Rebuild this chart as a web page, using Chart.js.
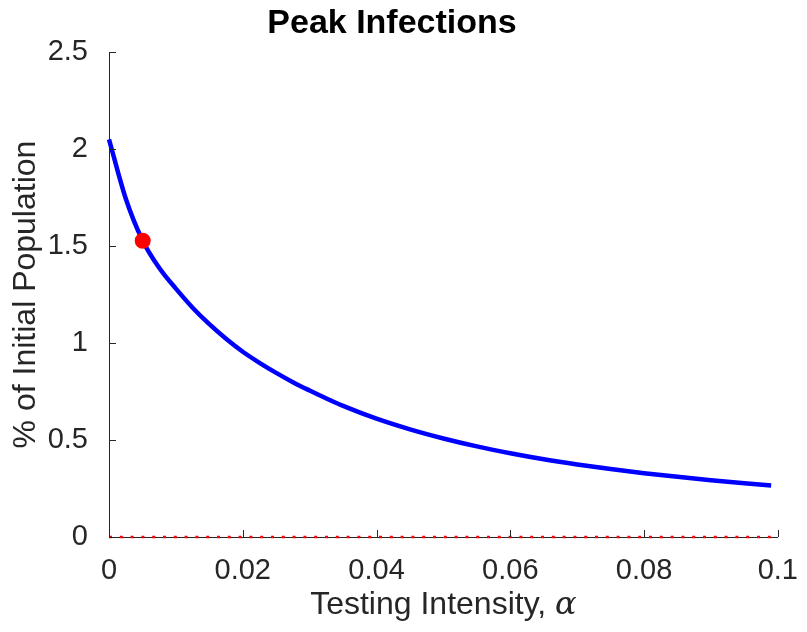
<!DOCTYPE html>
<html>
<head>
<meta charset="utf-8">
<script src="https://cdn.jsdelivr.net/npm/chart.js@4.4.1/dist/chart.umd.min.js"></script>
<style>
  html, body { margin: 0; padding: 0; background: #fff; }
  #wrap { width: 807px; height: 632px; }
</style>
</head>
<body>
<div id="wrap"><canvas id="peakChart"></canvas></div>
<script>
// testing intensity (alpha) and peak infections
const alphaVals = [0, 0.0025, 0.005, 0.0075, 0.01, 0.0125, 0.015, 0.0175, 0.02, 0.0225,
                   0.025, 0.0275, 0.03, 0.0325, 0.035, 0.04, 0.045, 0.05, 0.055, 0.06,
                   0.065, 0.07, 0.075, 0.08, 0.085, 0.09, 0.095, 0.099];
const peakVals = [2.05, 1.745, 1.53, 1.388, 1.28, 1.182, 1.097, 1.022, 0.955, 0.898,
                  0.846, 0.798, 0.755, 0.714, 0.676, 0.61, 0.555, 0.508, 0.467, 0.432,
                  0.401, 0.374, 0.35, 0.329, 0.31, 0.293, 0.277, 0.265];

// highlighted point
const markerAlpha = [0.00504];
const markerPeak = [1.527];

// zero reference line
const zeroAlpha = [0, 0.099];
const zeroPeak = [0, 0];

const xTicks = [0, 0.02, 0.04, 0.06, 0.08, 0.1];
const yTicks = [0, 0.5, 1, 1.5, 2, 2.5];

const FONT = '"Liberation Sans", Helvetica, Arial, sans-serif';
const AXIS_COLOR = '#262626';

const toPoints = (xs, ys) => xs.map((x, i) => ({x: x, y: ys[i]}));

//inward ticks, matlab style
const innerTicks = {
    id: 'innerTicks',
    afterDraw(chart) {
        const c = chart.ctx;
        const xs = chart.scales.x, ys = chart.scales.y;
        const len = 7;
        c.save();
        c.strokeStyle = AXIS_COLOR;
        c.lineWidth = 1;
        c.beginPath();
        xTicks.forEach(v => {
            const px = Math.round(xs.getPixelForValue(v)) + 0.5;
            c.moveTo(px, ys.bottom);
            c.lineTo(px, ys.bottom - len);
        });
        yTicks.forEach(v => {
            const py = Math.round(ys.getPixelForValue(v)) + 0.5;
            c.moveTo(xs.left, py);
            c.lineTo(xs.left + len, py);
        });
        c.stroke();
        c.restore();
    }
};

// x title with an italic alpha
const xTitle = {
    id: 'xTitle',
    afterDraw(chart) {
        const c = chart.ctx;
        const area = chart.chartArea;
        const part1 = 'Testing Intensity, ';
        const part2 = '\u03B1';
        const sans = '32px ' + FONT;
        const serif = 'italic 32px "DejaVu Serif", "Liberation Serif", serif';
        c.save();
        c.fillStyle = AXIS_COLOR;
        c.textBaseline = 'alphabetic';
        c.font = sans;
        const w1 = c.measureText(part1).width;
        c.font = serif;
        const w2 = c.measureText(part2).width;
        const x0 = (area.left + area.right) / 2 - (w1 + w2) / 2;
        const y0 = 614;
        c.font = sans;
        c.fillText(part1, x0, y0);
        c.font = serif;
        c.fillText(part2, x0 + w1, y0);
        c.restore();
    }
};

const ctx = document.getElementById('peakChart').getContext('2d');
const peakChart = new Chart(ctx, {
    type: 'scatter',
    data: {
        datasets: [{
            label: 'marker',
            data: toPoints(markerAlpha, markerPeak),
            backgroundColor: '#ff0000',
            borderWidth: 0,
            pointRadius: 8,
            clip: 10
        }, {
            label: 'peak',
            type: 'line',
            data: toPoints(alphaVals, peakVals),
            borderColor: '#0000ff',
            borderWidth: 4.5,
            pointRadius: 0,
            cubicInterpolationMode: 'monotone',
            fill: false,
            clip: 10
        }, {
            label: 'zero',
            type: 'line',
            data: toPoints(zeroAlpha, zeroPeak),
            borderColor: '#ff0000',
            borderWidth: 2.5,
            borderDash: [3, 7.8],
            pointRadius: 0,
            fill: false,
            clip: 10
        }]
    },
    options: {
        responsive: true,
        maintainAspectRatio: false,
        animation: false,
        events: [],
        layout: { padding: { top: 0, right: 23, bottom: 0, left: 0 } },
        plugins: {
            legend: { display: false },
            tooltip: { enabled: false },
            title: {
                display: true,
                text: 'Peak Infections',
                color: '#000',
                font: { family: FONT, size: 34, weight: 'bold', lineHeight: 1.2 },
                padding: { top: 3, bottom: 8.2 }
            }
        },
        scales: {
            x: {
                type: 'linear',
                min: 0,
                max: 0.1,
                afterFit: s => { s.height = 95; },
                afterBuildTicks: s => { s.ticks = xTicks.map(v => ({value: v})); },
                grid: { display: false },
                border: { display: true, color: AXIS_COLOR, width: 1 },
                ticks: {
                    color: AXIS_COLOR,
                    padding: 9,
                    maxRotation: 0,
                    font: { family: FONT, size: 29 },
                    callback: v => String(+v.toFixed(2))
                }
            },
            y: {
                type: 'linear',
                min: 0,
                max: 2.5,
                afterFit: s => { s.width = 109; },
                afterBuildTicks: s => { s.ticks = yTicks.map(v => ({value: v})); },
                grid: { display: false },
                border: { display: true, color: AXIS_COLOR, width: 1 },
                title: {
                    display: true,
                    text: '% of Initial Population',
                    color: AXIS_COLOR,
                    font: { family: FONT, size: 32 },
                    padding: { top: 7, bottom: 0 }
                },
                ticks: {
                    color: AXIS_COLOR,
                    padding: 13,
                    font: { family: FONT, size: 29 },
                    callback: v => String(+v.toFixed(1))
                }
            }
        }
    },
    plugins: [innerTicks, xTitle]
});
</script>
</body>
</html>
